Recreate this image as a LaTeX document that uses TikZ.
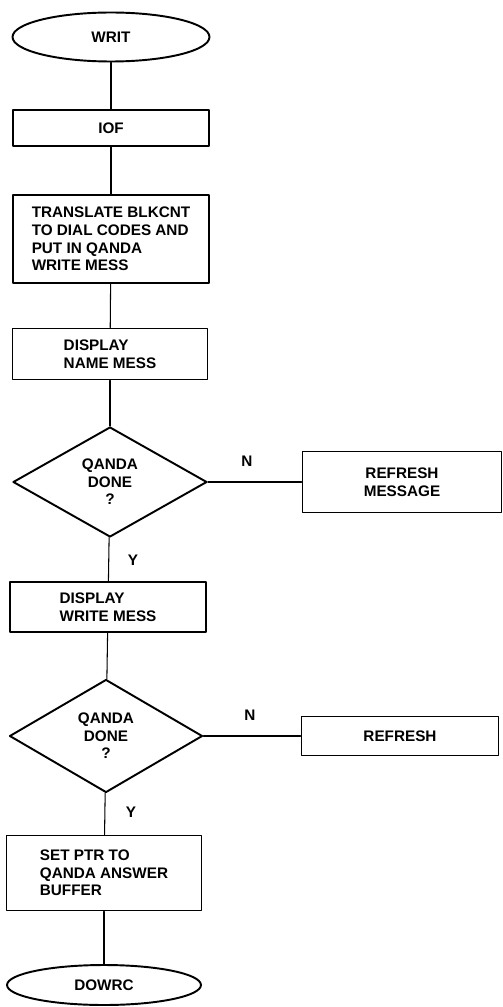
\documentclass[tikz,border=0pt]{standalone}
\usepackage{fontspec}
\setmainfont{Liberation Sans}
\usetikzlibrary{shapes.geometric}
\begin{document}
\begin{tikzpicture}[x=0.02cm,y=-0.02cm, line join=round,line cap=round,
		font=\fontsize{8.7}{10}\selectfont\bfseries,
		boxnode/.style={draw,line width=1.1pt,rectangle,inner sep=0pt,align=left},
		termnode/.style={draw,line width=1.1pt,ellipse,inner sep=0pt},
		testnode/.style={draw,line width=1.1pt,diamond,inner sep=0pt,align=center},
		link/.style={line width=0.6pt}]
			\useasboundingbox (0,0) rectangle (503,1007);
			% --- Khối chính ---
			\node[termnode,minimum width=3.94cm,minimum height=0.98cm] (writ) at (111,37) {WRIT};
			\node[boxnode,align=center,minimum width=3.92cm,minimum height=0.72cm] (iof) at (111,128) {IOF};
			\node[boxnode,minimum width=3.92cm,minimum height=1.76cm] (translate) at (111,239)
				{TRANSLATE BLKCNT\\TO DIAL CODES AND\\PUT IN QANDA\\WRITE MESS};
			\node[boxnode,minimum width=3.9cm,minimum height=1.02cm] (dispname) at (110,354)
				{DISPLAY\\NAME MESS};
			\node[testnode,minimum width=3.88cm,minimum height=2.2cm] (done1) at (110,482)
				{QANDA\\DONE\\?};
			\node[boxnode,align=center,minimum width=3.98cm,minimum height=1.22cm] (refmsg) at (402,482)
				{REFRESH\\MESSAGE};
			\node[boxnode,minimum width=3.92cm,minimum height=1.0cm] (dispwrite) at (108,607)
				{DISPLAY\\WRITE MESS};
			\node[testnode,minimum width=3.86cm,minimum height=2.26cm] (done2) at (106,736)
				{QANDA\\DONE\\?};
			\node[boxnode,align=center,minimum width=3.94cm,minimum height=0.78cm] (refresh) at (400,736)
				{REFRESH};
			\node[boxnode,minimum width=3.9cm,minimum height=1.5cm] (setptr) at (104,873)
				{SET PTR TO\\QANDA ANSWER\\BUFFER};
			\node[termnode,minimum width=3.88cm,minimum height=0.8cm] (dowrc) at (104,985) {DOWRC};
			% --- Nhãn nhánh ---
			\node (n1) at (247,461) {N};
			\node (y1) at (133,560) {Y};
			\node (n2) at (250,715) {N};
			\node (y2) at (131,812) {Y};
			% --- Đường nối ---
			\draw[link] (writ) -- (iof);
			\draw[link] (iof) -- (translate);
			\draw[link] (translate) -- (dispname);
			\draw[link] (dispname) -- (done1);
			\draw[link] (done1) -- (refmsg);
			\draw[link] (done1) -- (dispwrite);
			\draw[link] (dispwrite) -- (done2);
			\draw[link] (done2) -- (refresh);
			\draw[link] (done2) -- (setptr);
			\draw[link] (setptr) -- (dowrc);
	\end{tikzpicture}
\end{document}
